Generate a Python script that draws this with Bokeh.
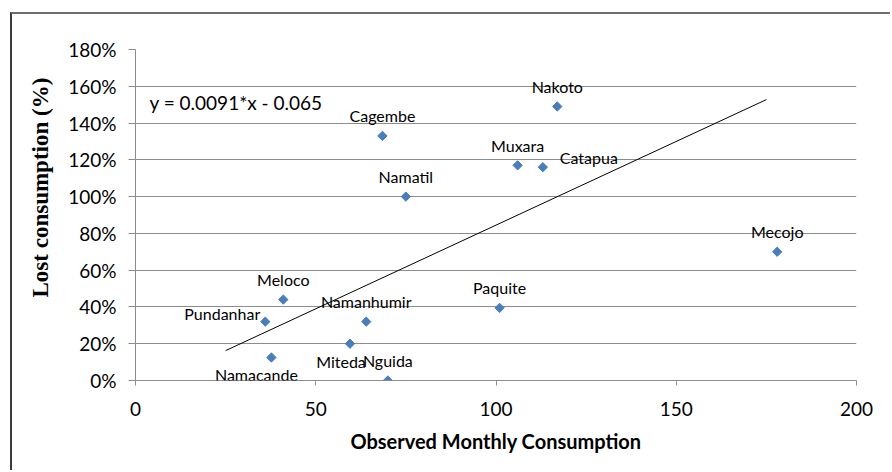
import numpy as np
from bokeh.plotting import figure
from bokeh.models import (ColumnDataSource, LabelSet, Label, FixedTicker,
                          NumeralTickFormatter, Range1d, Title)
from bokeh.core.properties import value
from bokeh.embed import file_html
from bokeh.resources import INLINE

# ---- data ----
names = ["Nakoto", "Cagembe", "Namatil", "Muxara", "Catapua", "Mecojo",
         "Paquite", "Meloco", "Pundanhar", "Namanhumir", "Miteda", "Nguida",
         "Namacande"]
consumption = [117, 68.5, 75, 106, 113, 178, 101, 41, 36, 64, 59.5, 70, 37.7]
lost = [1.49, 1.33, 1.00, 1.17, 1.16, 0.70, 0.395, 0.44, 0.32, 0.32, 0.20, 0.0, 0.125]

trend_slope = 0.0091
trend_intercept = -0.065
trend_x_range = [25, 175]

x_ticks = [0, 50, 100, 150, 200]
y_ticks = [0, 0.2, 0.4, 0.6, 0.8, 1.0, 1.2, 1.4, 1.6, 1.8]

# ---- label placement (screen px, up positive) ----
label_dx = [0, 0, 0, 0, 46, 0, 0, 0, -43, 0, -9, 0, -15]
label_dy = [20, 20, 20, 20, 10, 20, 20, 20, 8, 20, -18, 20, -17]

FONT = "Lato"
GRID = "#8c8c8c"

W, H = 880, 458
p = figure(width=W, height=H, output_backend="svg", toolbar_location=None,
           x_range=Range1d(0, 200), y_range=Range1d(0, 1.8),
           min_border_left=123, min_border_right=W - 844,
           min_border_top=35, min_border_bottom=92)
p.styles = {"margin-left": "10px", "margin-top": "12px",
            "border-left": "2px solid #3c3c3c", "border-top": "2px solid #6e6e6e"}
p.outline_line_color = None
p.background_fill_color = "white"
p.border_fill_color = "white"

# grid
p.xgrid.grid_line_color = None
p.ygrid.grid_line_color = GRID
p.ygrid.grid_line_width = 1
p.ygrid.ticker = FixedTicker(ticks=y_ticks)

# axes
for ax in (p.xaxis[0], p.yaxis[0]):
    ax.axis_line_color = GRID
    ax.major_tick_line_color = GRID
    ax.minor_tick_line_color = None
    ax.major_tick_in = 0
    ax.major_label_text_font = FONT
    ax.major_label_text_font_size = "19px"
    ax.major_label_text_color = "black"

p.xaxis.ticker = FixedTicker(ticks=x_ticks)
p.xaxis.major_tick_out = 5
p.xaxis.major_label_standoff = 16
p.xaxis.axis_label = "Observed Monthly Consumption"
p.xaxis.axis_label_text_font = FONT
p.xaxis.axis_label_text_font_style = "bold"
p.xaxis.axis_label_text_font_size = "20px"
p.xaxis.axis_label_text_color = "black"
p.xaxis.axis_label_standoff = 10

p.yaxis.ticker = FixedTicker(ticks=y_ticks)
p.yaxis.formatter = NumeralTickFormatter(format="0%")
p.yaxis.major_tick_out = 7
p.yaxis.major_label_standoff = 12

# y axis title
p.add_layout(Title(text="Lost consumption (%)", align="left", offset=83,
                   standoff=26, text_font="Liberation Serif",
                   text_font_style="bold", text_font_size="23px",
                   text_color="black"), "left")

# trend line
tx = np.array(trend_x_range, dtype=float)
ty = trend_slope * tx + trend_intercept
p.line(tx, ty, line_color="black", line_width=1)

# points
src = ColumnDataSource(dict(x=consumption, y=lost, name=names,
                            dx=label_dx, dy=label_dy))
p.scatter("x", "y", source=src, marker="square", angle=np.pi / 4, size=6.6,
          fill_color="#4a7ebb", line_color="#4a7ebb")

p.add_layout(LabelSet(x="x", y="y", text="name", source=src,
                      x_offset="dx", y_offset="dy",
                      text_align="center", text_baseline="middle",
                      text_font=value(FONT), text_font_size="16px",
                      text_color="black"))

# equation
p.add_layout(Label(x=14, y=278, x_units="screen", y_units="screen",
                   text="y = 0.0091*x - 0.065", text_align="left",
                   text_baseline="alphabetic", text_font=FONT,
                   text_font_size="19px", text_color="black"))

open("out.html", "w").write(file_html(p, INLINE))
